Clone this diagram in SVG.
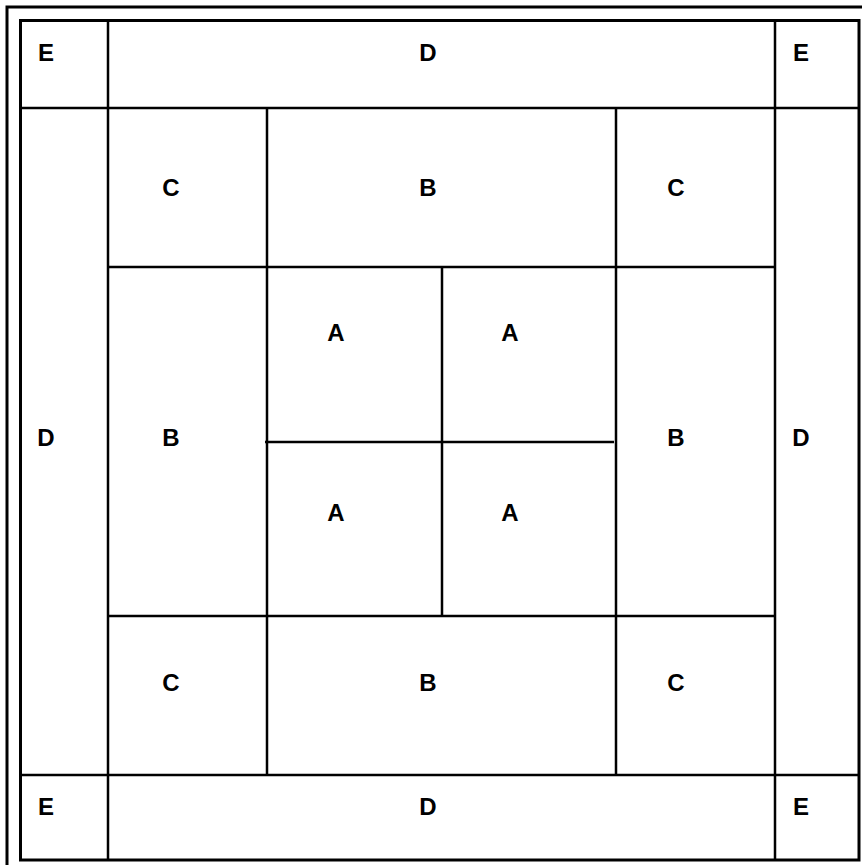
<svg xmlns="http://www.w3.org/2000/svg" width="862" height="865" viewBox="0 0 862 865">
<style>
.frame{fill:none;stroke:#000;stroke-width:3}
.ln{stroke:#000;stroke-width:2.5;fill:none}
text{font-family:"Liberation Sans",Arial,sans-serif;font-weight:bold;font-size:24px;text-anchor:middle;dominant-baseline:central;fill:#000}
</style>
<rect width="862" height="865" fill="#fff"/>
<rect class="frame" x="7" y="7" width="870" height="870"/>
<rect class="frame" x="20.5" y="20.5" width="838.5" height="839.5"/>
<g id="connectors">
<line class="ln" x1="108" y1="20" x2="108" y2="860"/>
<line class="ln" x1="775" y1="20" x2="775" y2="860"/>
<line class="ln" x1="20" y1="108" x2="859" y2="108"/>
<line class="ln" x1="20" y1="775" x2="859" y2="775"/>
<line class="ln" x1="267" y1="108" x2="267" y2="775"/>
<line class="ln" x1="616" y1="108" x2="616" y2="775"/>
<line class="ln" x1="108" y1="267" x2="775" y2="267"/>
<line class="ln" x1="108" y1="616" x2="775" y2="616"/>
<line class="ln" x1="442" y1="267" x2="442" y2="616"/>
<line class="ln" x1="265" y1="442" x2="614" y2="442"/>
</g>
<g id="E1"><text x="46" y="52">E</text></g>
<g id="D1"><text x="428" y="52">D</text></g>
<g id="E2"><text x="801" y="52">E</text></g>
<g id="C1"><text x="171" y="187">C</text></g>
<g id="B1"><text x="428" y="187">B</text></g>
<g id="C2"><text x="676" y="187">C</text></g>
<g id="A1"><text x="336" y="332">A</text></g>
<g id="A2"><text x="510" y="332">A</text></g>
<g id="A3"><text x="336" y="512">A</text></g>
<g id="A4"><text x="510" y="512">A</text></g>
<g id="D2"><text x="46" y="437">D</text></g>
<g id="B2"><text x="171" y="437">B</text></g>
<g id="B3"><text x="676" y="437">B</text></g>
<g id="D3"><text x="801" y="437">D</text></g>
<g id="C3"><text x="171" y="682">C</text></g>
<g id="B4"><text x="428" y="682">B</text></g>
<g id="C4"><text x="676" y="682">C</text></g>
<g id="E3"><text x="46" y="806">E</text></g>
<g id="D4"><text x="428" y="806">D</text></g>
<g id="E4"><text x="801" y="806">E</text></g>
</svg>
